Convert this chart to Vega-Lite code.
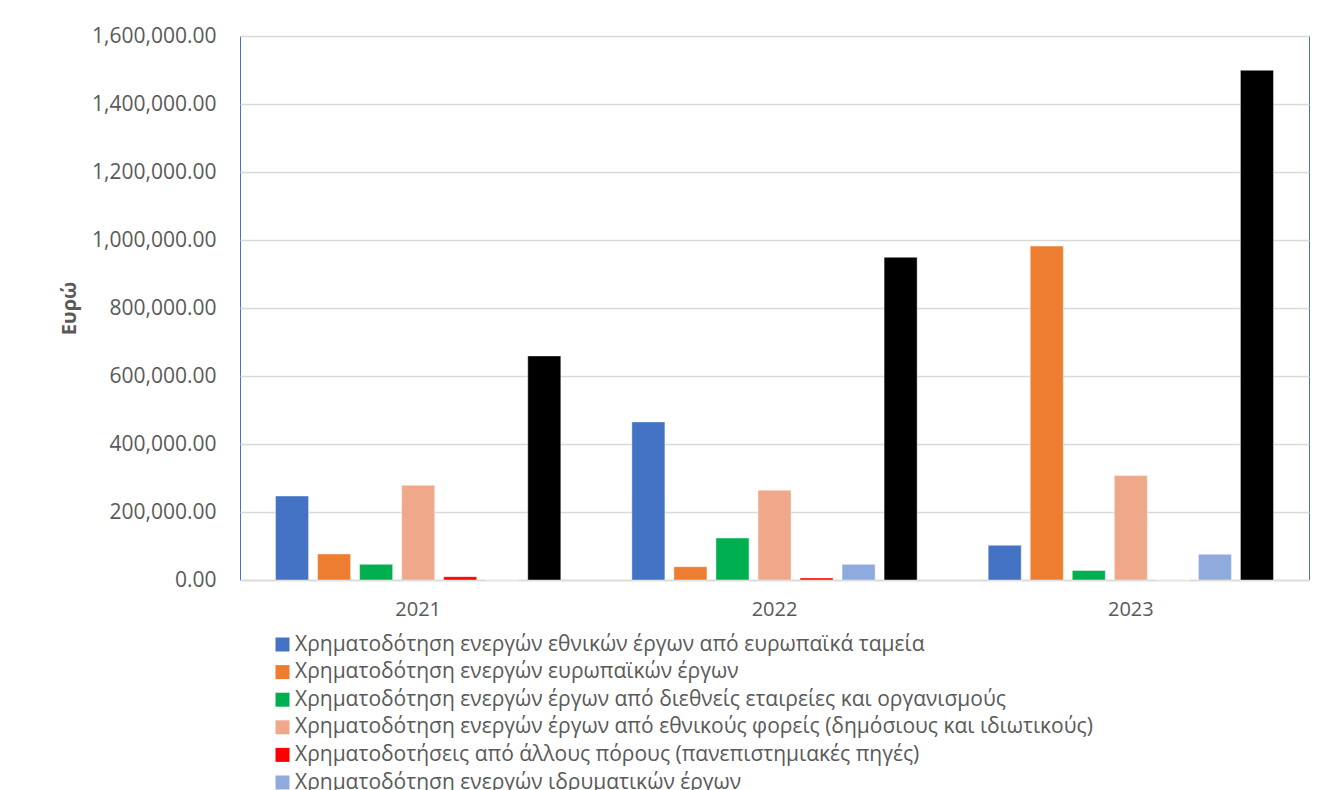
{
  "$schema": "https://vega.github.io/schema/vega-lite/v6.json",
  "width": 1069,
  "height": 544,
  "autosize": {"type": "none"},
  "padding": {"left": 240, "top": 36, "right": 21, "bottom": 210},
  "background": "white",
  "config": {
    "font": "Open Sans",
    "view": {"stroke": "#4472C4", "strokeWidth": 1}
  },
  "data": {
    "values": [
      {"Έτος": "2021", "Κατηγορία": "Χρηματοδότηση ενεργών εθνικών έργων από ευρωπαϊκά ταμεία", "Ποσό": 247000},
      {"Έτος": "2021", "Κατηγορία": "Χρηματοδότηση ενεργών ευρωπαϊκών έργων", "Ποσό": 76500},
      {"Έτος": "2021", "Κατηγορία": "Χρηματοδότηση ενεργών έργων από διεθνείς εταιρείες και οργανισμούς", "Ποσό": 46000},
      {"Έτος": "2021", "Κατηγορία": "Χρηματοδότηση ενεργών έργων από εθνικούς φορείς (δημόσιους και ιδιωτικούς)", "Ποσό": 278500},
      {"Έτος": "2021", "Κατηγορία": "Χρηματοδοτήσεις από άλλους πόρους (πανεπιστημιακές πηγές)", "Ποσό": 9700},
      {"Έτος": "2021", "Κατηγορία": "Χρηματοδότηση ενεργών ιδρυματικών έργων", "Ποσό": 0},
      {"Έτος": "2021", "Κατηγορία": "Σύνολο", "Ποσό": 659000},
      {"Έτος": "2022", "Κατηγορία": "Χρηματοδότηση ενεργών εθνικών έργων από ευρωπαϊκά ταμεία", "Ποσό": 465000},
      {"Έτος": "2022", "Κατηγορία": "Χρηματοδότηση ενεργών ευρωπαϊκών έργων", "Ποσό": 39000},
      {"Έτος": "2022", "Κατηγορία": "Χρηματοδότηση ενεργών έργων από διεθνείς εταιρείες και οργανισμούς", "Ποσό": 123500},
      {"Έτος": "2022", "Κατηγορία": "Χρηματοδότηση ενεργών έργων από εθνικούς φορείς (δημόσιους και ιδιωτικούς)", "Ποσό": 264000},
      {"Έτος": "2022", "Κατηγορία": "Χρηματοδοτήσεις από άλλους πόρους (πανεπιστημιακές πηγές)", "Ποσό": 6000},
      {"Έτος": "2022", "Κατηγορία": "Χρηματοδότηση ενεργών ιδρυματικών έργων", "Ποσό": 46000},
      {"Έτος": "2022", "Κατηγορία": "Σύνολο", "Ποσό": 949000},
      {"Έτος": "2023", "Κατηγορία": "Χρηματοδότηση ενεργών εθνικών έργων από ευρωπαϊκά ταμεία", "Ποσό": 102000},
      {"Έτος": "2023", "Κατηγορία": "Χρηματοδότηση ενεργών ευρωπαϊκών έργων", "Ποσό": 982000},
      {"Έτος": "2023", "Κατηγορία": "Χρηματοδότηση ενεργών έργων από διεθνείς εταιρείες και οργανισμούς", "Ποσό": 28000},
      {"Έτος": "2023", "Κατηγορία": "Χρηματοδότηση ενεργών έργων από εθνικούς φορείς (δημόσιους και ιδιωτικούς)", "Ποσό": 307000},
      {"Έτος": "2023", "Κατηγορία": "Χρηματοδοτήσεις από άλλους πόρους (πανεπιστημιακές πηγές)", "Ποσό": 0},
      {"Έτος": "2023", "Κατηγορία": "Χρηματοδότηση ενεργών ιδρυματικών έργων", "Ποσό": 75600},
      {"Έτος": "2023", "Κατηγορία": "Σύνολο", "Ποσό": 1499000}
    ]
  },
  "mark": {"type": "bar", "stroke": "white", "strokeWidth": 0.6, "strokeOpacity": 0.7},
  "encoding": {
    "x": {
      "field": "Έτος",
      "type": "nominal",
      "scale": {"paddingInner": 0, "paddingOuter": 0},
      "axis": {
        "title": null,
        "labelAngle": 0,
        "labelFontSize": 20,
        "labelColor": "#595959",
        "labelPadding": 19,
        "ticks": false,
        "domainColor": "#D9D9D9",
        "domainWidth": 1.5
      }
    },
    "xOffset": {
      "field": "Κατηγορία",
      "type": "nominal",
      "sort": [
        "Χρηματοδότηση ενεργών εθνικών έργων από ευρωπαϊκά ταμεία",
        "Χρηματοδότηση ενεργών ευρωπαϊκών έργων",
        "Χρηματοδότηση ενεργών έργων από διεθνείς εταιρείες και οργανισμούς",
        "Χρηματοδότηση ενεργών έργων από εθνικούς φορείς (δημόσιους και ιδιωτικούς)",
        "Χρηματοδοτήσεις από άλλους πόρους (πανεπιστημιακές πηγές)",
        "Χρηματοδότηση ενεργών ιδρυματικών έργων",
        "Σύνολο"
      ],
      "scale": {"paddingInner": 0.214, "paddingOuter": 0.845}
    },
    "y": {
      "field": "Ποσό",
      "type": "quantitative",
      "scale": {"domain": [0, 1600000], "nice": false},
      "axis": {
        "title": "Ευρώ",
        "titleFontSize": 20,
        "titleFontWeight": "bold",
        "titleColor": "#595959",
        "titlePadding": 12,
        "values": [0, 200000, 400000, 600000, 800000, 1000000, 1200000, 1400000, 1600000],
        "format": ",.2f",
        "labelFontSize": 21,
        "labelColor": "#595959",
        "labelPadding": 24,
        "ticks": false,
        "domain": false,
        "gridColor": "#D9D9D9",
        "gridWidth": 1.5
      }
    },
    "color": {
      "field": "Κατηγορία",
      "type": "nominal",
      "scale": {
        "domain": [
          "Χρηματοδότηση ενεργών εθνικών έργων από ευρωπαϊκά ταμεία",
          "Χρηματοδότηση ενεργών ευρωπαϊκών έργων",
          "Χρηματοδότηση ενεργών έργων από διεθνείς εταιρείες και οργανισμούς",
          "Χρηματοδότηση ενεργών έργων από εθνικούς φορείς (δημόσιους και ιδιωτικούς)",
          "Χρηματοδοτήσεις από άλλους πόρους (πανεπιστημιακές πηγές)",
          "Χρηματοδότηση ενεργών ιδρυματικών έργων",
          "Σύνολο"
        ],
        "range": ["#4472C4", "#ED7D31", "#00B050", "#F0A88A", "#FF0000", "#8FAADC", "#000000"]
      },
      "legend": {
        "title": null,
        "orient": "none",
        "direction": "vertical",
        "legendX": 32,
        "legendY": 598,
        "symbolType": "square",
        "symbolSize": 196,
        "symbolStrokeWidth": 0,
        "labelFontSize": 21,
        "labelColor": "#595959",
        "labelLimit": 1200,
        "labelOffset": 2,
        "rowPadding": 5.6
      }
    }
  }
}
